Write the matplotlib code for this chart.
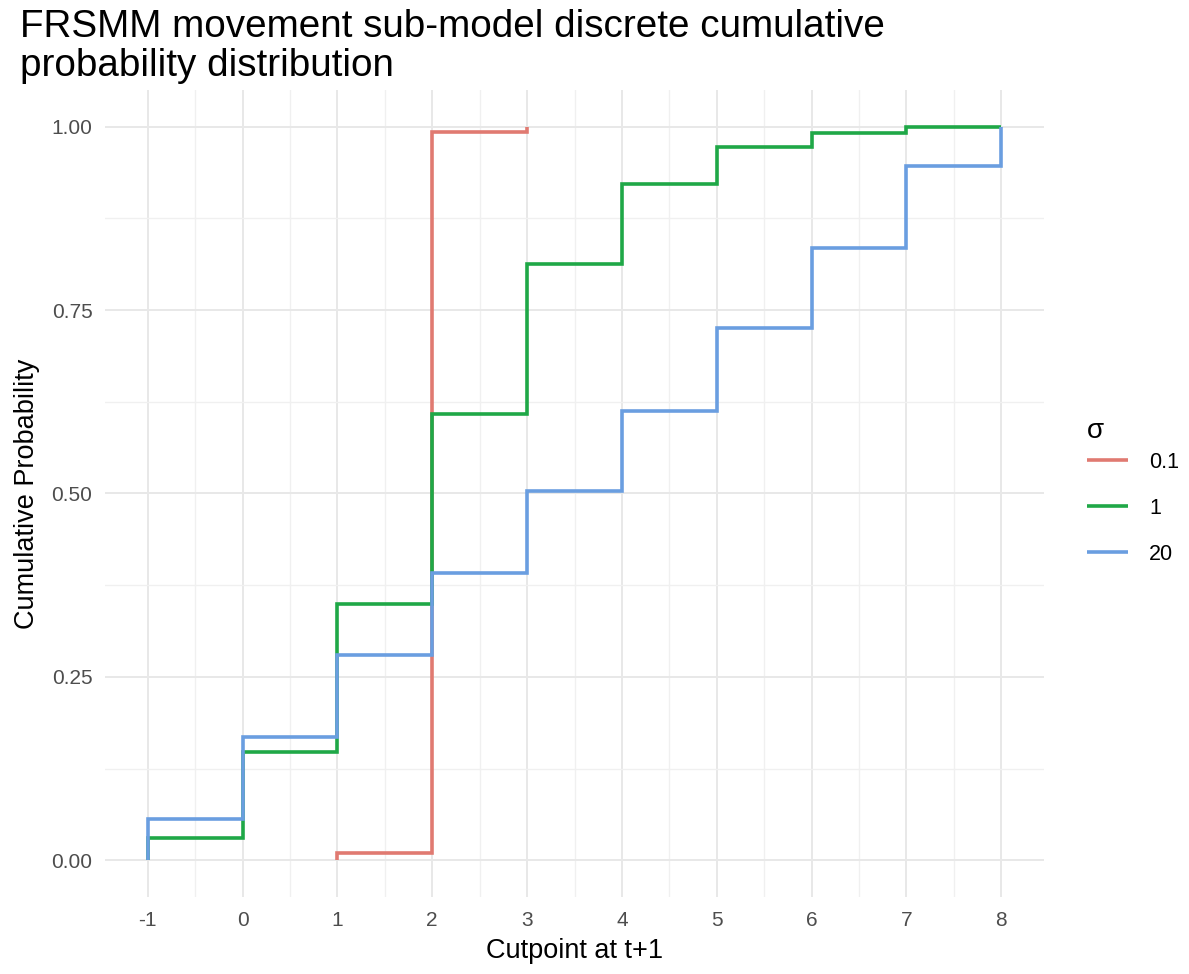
import numpy as np
import matplotlib
matplotlib.use("Agg")
import matplotlib.pyplot as plt
from matplotlib.ticker import MultipleLocator

plt.rcParams['font.family'] = ['Liberation Sans', 'DejaVu Sans']
plt.rcParams['axes.unicode_minus'] = False

# cumulative probability of the cutpoint at t+1, one series per sigma
sigma_labels = ["0.1", "1", "20"]
cut_01 = [1, 2, 3]
cum_01 = [0.010, 0.993, 1.000]
cut_1 = [-1, 0, 1, 2, 3, 4, 5, 6, 7, 8]
cum_1 = [0.030, 0.147, 0.350, 0.609, 0.813, 0.922, 0.972, 0.991, 0.999, 1.000]
cut_20 = [-1, 0, 1, 2, 3, 4, 5, 6, 7, 8]
cum_20 = [0.057, 0.168, 0.280, 0.392, 0.504, 0.613, 0.725, 0.835, 0.946, 1.000]

colors = ["#E07A71", "#1FA847", "#6A9EE0"]

W, H = 1189, 974
fig = plt.figure(figsize=(W / 100, H / 100), dpi=100)
ax = fig.add_axes([105 / W, 1 - 897 / H, (1044 - 105) / W, (897 - 90) / H])

series = [(cut_01, cum_01), (cut_1, cum_1), (cut_20, cum_20)]
for (xs, ys), col, lab in zip(series, colors, sigma_labels):
    # CDF drawn as a step: start from zero at the first cutpoint
    ax.plot([xs[0]] + xs, [0] + ys, drawstyle='steps-post', color=col,
            lw=2.6, label=lab, solid_joinstyle='miter', solid_capstyle='butt')

ax.set_xlim(-1.45, 8.45)
ax.set_ylim(-0.05, 1.05)
ax.xaxis.set_major_locator(MultipleLocator(1))
ax.xaxis.set_minor_locator(MultipleLocator(0.5))
ax.yaxis.set_major_locator(MultipleLocator(0.25))
ax.yaxis.set_minor_locator(MultipleLocator(0.125))
ax.yaxis.set_major_formatter(plt.FuncFormatter(lambda v, p: f"{v:.2f}"))

ax.grid(which='major', color='#E8E8E8', lw=1.4)
ax.grid(which='minor', color='#F0F0F0', lw=1.0)
ax.set_axisbelow(True)
for s in ax.spines.values():
    s.set_visible(False)
ax.tick_params(which='both', length=0)
ax.tick_params(labelsize=15, labelcolor='#4D4D4D')
ax.tick_params(axis='x', pad=10)
ax.tick_params(axis='y', pad=9)

ax.set_xlabel("Cutpoint at t+1", fontsize=19.5, labelpad=6)
ax.set_ylabel("Cumulative Probability", fontsize=19.5, labelpad=8)

fig.text(20 / W, 1 - 9 / H,
         "FRSMM movement sub-model discrete cumulative\nprobability distribution",
         fontsize=27.8, ha='left', va='top', linespacing=1.1)

leg = ax.legend(title="σ", loc='center left', bbox_to_anchor=(1.025, 0.503),
                frameon=False, fontsize=15.5, title_fontsize=20,
                handlelength=1.9, handletextpad=1.0, labelspacing=1.15)
leg._legend_box.align = "left"
leg._legend_box.sep = 6

fig.savefig("out.png", dpi=100)
